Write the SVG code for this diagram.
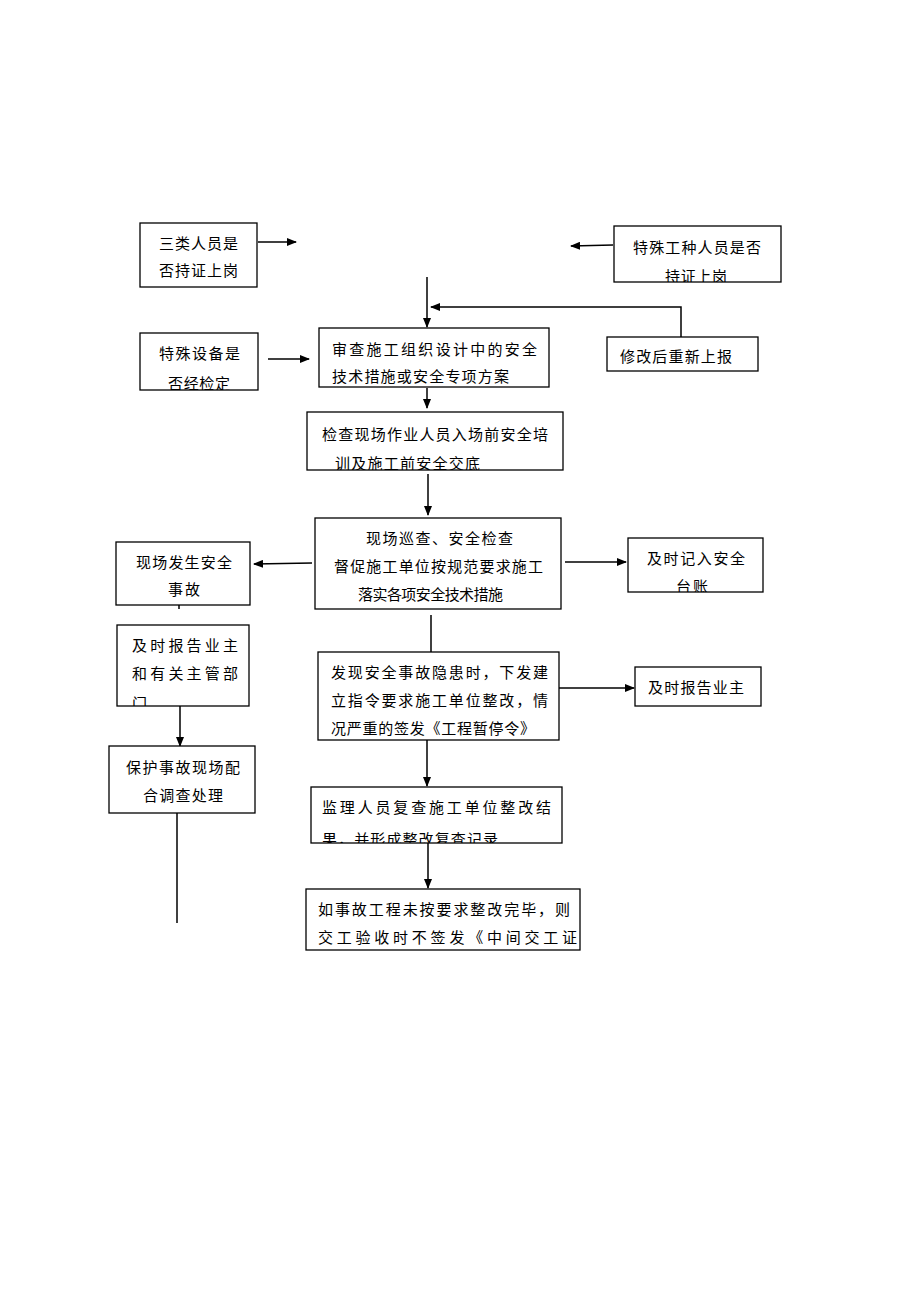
<svg xmlns="http://www.w3.org/2000/svg" width="920" height="1302" viewBox="0 0 920 1302">
<style>
.b{fill:#fff;stroke:#000;stroke-width:1.3}
.t{font-family:"Liberation Serif","Noto Sans CJK SC",serif;font-size:15px;fill:#000}
.c{stroke:#000;stroke-width:1.5;fill:none}
</style>
<defs>
<marker id="a" markerWidth="10" markerHeight="8" refX="9" refY="4" orient="auto" markerUnits="userSpaceOnUse">
<path d="M0,0 L10,4 L0,8 Z" fill="#000"/>
</marker>
<clipPath id="k2"><rect x="614" y="226" width="167" height="56"/></clipPath>
<clipPath id="k3"><rect x="140" y="333" width="118" height="57"/></clipPath>
<clipPath id="k6"><rect x="307" y="412" width="256" height="58"/></clipPath>
<clipPath id="k9"><rect x="628" y="538" width="135" height="54"/></clipPath>
<clipPath id="k10"><rect x="117" y="625" width="132" height="81"/></clipPath>
<clipPath id="k14"><rect x="311" y="787" width="251" height="56"/></clipPath>
</defs>
<rect width="920" height="1302" fill="#fff"/>
<g id="connectors">
<path class="c" d="M258,242 H296" marker-end="url(#a)"/>
<path class="c" d="M613,245 L571,246" marker-end="url(#a)"/>
<path class="c" d="M427,277 V327" marker-end="url(#a)"/>
<path class="c" d="M681,337 V307 H431" marker-end="url(#a)"/>
<path class="c" d="M268,359 H309" marker-end="url(#a)"/>
<path class="c" d="M427,388 V408" marker-end="url(#a)"/>
<path class="c" d="M428,474 V515" marker-end="url(#a)"/>
<path class="c" d="M312,563 L254,564" marker-end="url(#a)"/>
<path class="c" d="M565,562 H626" marker-end="url(#a)"/>
<path class="c" d="M179,605 V609"/>
<path class="c" d="M180,680 V746" marker-end="url(#a)"/>
<path class="c" d="M177,813 V923"/>
<path class="c" d="M431,615 V652"/>
<path class="c" d="M559,688 H634" marker-end="url(#a)"/>
<path class="c" d="M427,740 V786" marker-end="url(#a)"/>
<path class="c" d="M428,843 V888" marker-end="url(#a)"/>
</g>
<g id="n1"><rect class="b" x="140" y="223" width="117" height="64"/>
<text class="t" x="159" y="249" textLength="79" lengthAdjust="spacing">三类人员是</text>
<text class="t" x="159" y="276" textLength="79" lengthAdjust="spacing">否持证上岗</text></g>
<g id="n2"><rect class="b" x="614" y="226" width="167" height="56"/>
<text class="t" x="633" y="253" textLength="128" lengthAdjust="spacing">特殊工种人员是否</text>
<g clip-path="url(#k2)"><text class="t" x="665" y="282" textLength="62" lengthAdjust="spacing">持证上岗</text></g></g>
<g id="n3"><rect class="b" x="140" y="333" width="118" height="57"/>
<text class="t" x="159" y="359" textLength="81" lengthAdjust="spacing">特殊设备是</text>
<g clip-path="url(#k3)"><text class="t" x="168" y="389" textLength="62" lengthAdjust="spacing">否经检定</text></g></g>
<g id="n4"><rect class="b" x="319" y="328" width="230" height="59"/>
<text class="t" x="332" y="355" textLength="205" lengthAdjust="spacing">审查施工组织设计中的安全</text>
<text class="t" x="332" y="382" textLength="177" lengthAdjust="spacing">技术措施或安全专项方案</text></g>
<g id="n5"><rect class="b" x="607" y="337" width="151" height="34"/>
<text class="t" x="620" y="362" textLength="112" lengthAdjust="spacing">修改后重新上报</text></g>
<g id="n6"><rect class="b" x="307" y="412" width="256" height="58"/>
<text class="t" x="322" y="440" textLength="226" lengthAdjust="spacing">检查现场作业人员入场前安全培</text>
<g clip-path="url(#k6)"><text class="t" x="335" y="469" textLength="145" lengthAdjust="spacing">训及施工前安全交底</text></g></g>
<g id="n7"><rect class="b" x="315" y="518" width="246" height="91"/>
<text class="t" x="366" y="544" textLength="147" lengthAdjust="spacing">现场巡查、安全检查</text>
<text class="t" x="334" y="572" textLength="209" lengthAdjust="spacing">督促施工单位按规范要求施工</text>
<text class="t" x="358" y="600" textLength="145" lengthAdjust="spacing">落实各项安全技术措施</text></g>
<g id="n8"><rect class="b" x="116" y="542" width="134" height="63"/>
<text class="t" x="136" y="568" textLength="96" lengthAdjust="spacing">现场发生安全</text>
<text class="t" x="168" y="595" textLength="32" lengthAdjust="spacing">事故</text></g>
<g id="n9"><rect class="b" x="628" y="538" width="135" height="54"/>
<text class="t" x="647" y="564" textLength="98" lengthAdjust="spacing">及时记入安全</text>
<g clip-path="url(#k9)"><text class="t" x="676" y="592" textLength="32" lengthAdjust="spacing">台账</text></g></g>
<g id="n10"><rect class="b" x="117" y="625" width="132" height="81"/>
<text class="t" x="132" y="651" textLength="106" lengthAdjust="spacing">及时报告业主</text>
<text class="t" x="132" y="679" textLength="106" lengthAdjust="spacing">和有关主管部</text>
<g clip-path="url(#k10)"><text class="t" x="132" y="709">门</text></g></g>
<g id="n11"><rect class="b" x="109" y="746" width="146" height="67"/>
<text class="t" x="126" y="773" textLength="114" lengthAdjust="spacing">保护事故现场配</text>
<text class="t" x="143" y="801" textLength="80" lengthAdjust="spacing">合调查处理</text></g>
<g id="n12"><rect class="b" x="318" y="652" width="241" height="88"/>
<text class="t" x="331" y="678" textLength="217" lengthAdjust="spacing">发现安全事故隐患时，下发建</text>
<text class="t" x="331" y="706" textLength="217" lengthAdjust="spacing">立指令要求施工单位整改，情</text>
<text class="t" x="331" y="734" textLength="204" lengthAdjust="spacing">况严重的签发《工程暂停令》</text></g>
<g id="n13"><rect class="b" x="635" y="667" width="126" height="39"/>
<text class="t" x="648" y="693" textLength="96" lengthAdjust="spacing">及时报告业主</text></g>
<g id="n14"><rect class="b" x="311" y="787" width="251" height="56"/>
<text class="t" x="322" y="813" textLength="229" lengthAdjust="spacing">监理人员复查施工单位整改结</text>
<g clip-path="url(#k14)"><text class="t" x="322" y="845" textLength="176" lengthAdjust="spacing">果，并形成整改复查记录</text></g></g>
<g id="n15"><rect class="b" x="306" y="889" width="274" height="61"/>
<text class="t" x="318" y="915" textLength="252" lengthAdjust="spacing">如事故工程未按要求整改完毕，则</text>
<text class="t" x="318" y="943" textLength="259" lengthAdjust="spacing">交工验收时不签发《中间交工证</text></g>
</svg>
